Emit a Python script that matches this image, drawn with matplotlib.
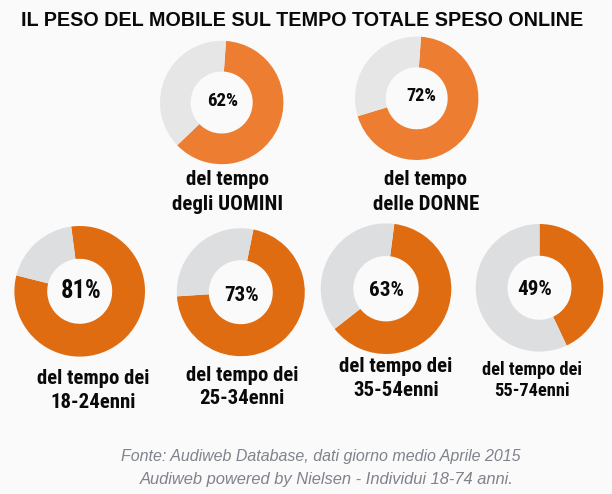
import matplotlib
matplotlib.use("Agg")
import matplotlib.pyplot as plt
from matplotlib import font_manager as fm

W, H = 612, 494
BG = "#FAFAFA"
INK = "#0A0A0A"

# Labels as printed, and the drawn shares as measured from the wedges
groups = ["uomini", "donne", "18-24", "25-34", "35-54", "55-74"]
printed_labels = ["62%", "72%", "81%", "73%", "63%", "49%"]
drawn_shares = [61.7, 69.2, 81.0, 70.8, 62.4, 43.0]
rest_shares = [100 - v for v in drawn_shares]
caption_top = ["del tempo", "del tempo", "del tempo dei", "del tempo dei", "del tempo dei", "del tempo dei"]
caption_bottom = ["degli UOMINI", "delle DONNE", "18-24enni", "25-34enni", "35-54enni", "55-74enni"]
title = "IL PESO DEL MOBILE SUL TEMPO TOTALE SPESO ONLINE"
source_lines = ["Fonte: Audiweb Database, dati giorno medio Aprile 2015",
                "Audiweb powered by Nielsen - Individui 18-74 anni."]

# layout (pixels): centre x, centre y, radius, hole radius, start offset clockwise
geometry = [(221.7, 102.5, 61.7, 31, 4.0), (416.7, 98.3, 61.7, 31, 4.0),
            (79.7, 291.3, 65.3, 32.5, -7.5), (240.8, 292.2, 64, 32, 11.4),
            (386.0, 288.7, 65.3, 32.7, 7.3), (539.5, 287.8, 63.8, 32, 0.0)]
wedge_colors = [("#ED7D31", "#E7E6E6"), ("#ED7D31", "#E7E6E6"),
                ("#E06C12", "#DDDEE0"), ("#E06C12", "#DDDEE0"),
                ("#E06C12", "#DDDEE0"), ("#E06C12", "#DDDEE0")]
# label: centre x, centre y, width in px
label_pos = [(223, 100.7, 31), (421, 95.7, 30), (80.7, 291, 40.7), (241.7, 295, 35), (386, 291, 35), (534.8, 289, 35)]
# caption: centre x, y top line, y bottom line, width of top line in px
cap_pos = [(227.5, 179, 204, 83), (426, 179, 204, 83), (93, 378, 402, 113),
           (242, 375, 398, 113), (396, 367, 391, 114), (532, 370, 391, 100)]

names = {f.name for f in fm.fontManager.ttflist}
narrow = next((n for n in ["Liberation Sans Narrow", "Roboto Condensed", "Open Sans Condensed", "Roboto"]
               if n in names), "Liberation Sans")

fig = plt.figure(figsize=(W / 100, H / 100), dpi=100, facecolor=BG)
renderer = fig.canvas.get_renderer()


def fitted(x, y, s, width, **kw):
    t = fig.text(x / W, 1 - y / H, s, ha="center", va="center", fontsize=10, **kw)
    t.set_fontsize(10 * width / t.get_window_extent(renderer).width)
    return t


for share, rest, (cx, cy, r, hole, off), cols, lab, lp, top, bot, cpos in zip(
        drawn_shares, rest_shares, geometry, wedge_colors,
        printed_labels, label_pos, caption_top, caption_bottom, cap_pos):
    ax = fig.add_axes([(cx - r) / W, 1 - (cy + r) / H, 2 * r / W, 2 * r / H])
    ax.pie([share, rest], colors=cols, startangle=90 - off, counterclock=False,
           radius=1, wedgeprops=dict(width=1 - hole / r, linewidth=0), frame=False)
    ax.set_xlim(-1, 1)
    ax.set_ylim(-1, 1)
    ax.axis("off")
    fitted(lp[0], lp[1], lab, lp[2], fontweight="bold", family=narrow, color=INK)
    t = fitted(cpos[0], cpos[1], top, cpos[3], fontweight="bold", family=narrow, color=INK)
    fig.text(cpos[0] / W, 1 - cpos[2] / H, bot, ha="center", va="center",
             fontsize=t.get_fontsize(), fontweight="bold", family=narrow, color=INK)

fitted(302, 21, title, 560, fontweight="bold", family="Liberation Sans", color=INK)
fitted(320.5, 456, source_lines[0], 403, style="italic", family="Liberation Sans", color="#7F838C")
fitted(327, 479, source_lines[1], 378, style="italic", family="Liberation Sans", color="#7F838C")

fig.savefig("out.png", dpi=100, facecolor=BG)
